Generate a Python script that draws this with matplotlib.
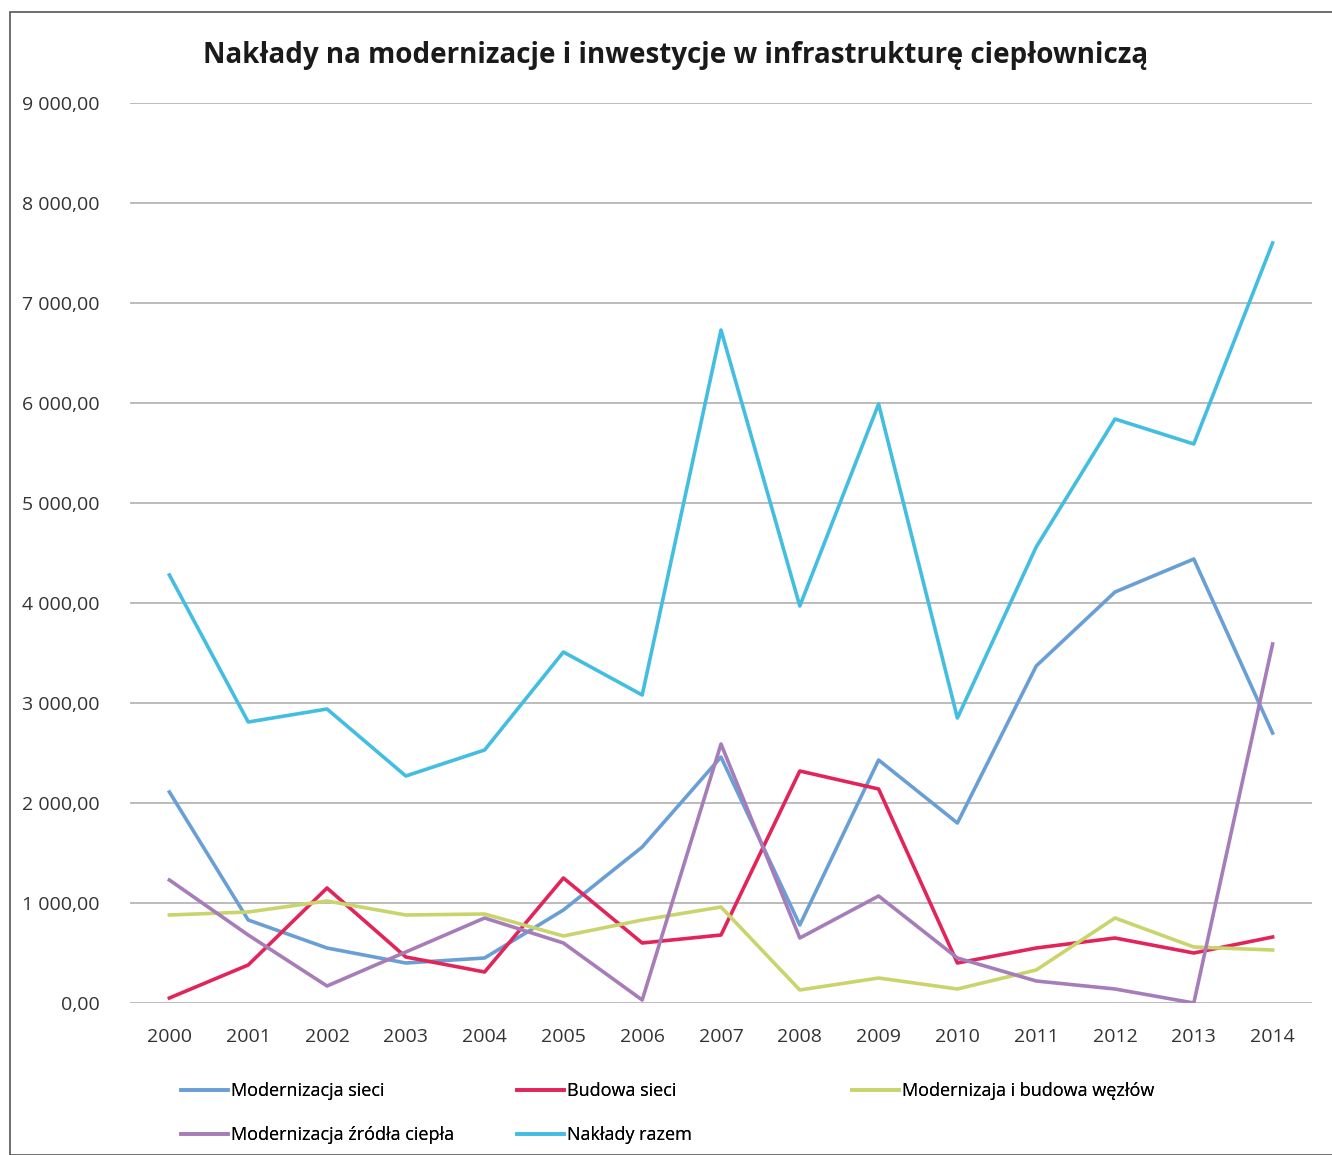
import matplotlib
matplotlib.use("Agg")
import matplotlib.pyplot as plt
from matplotlib.ticker import FuncFormatter
from matplotlib.patches import Rectangle

years = ["2000", "2001", "2002", "2003", "2004", "2005", "2006", "2007",
         "2008", "2009", "2010", "2011", "2012", "2013", "2014"]

modernizacja_sieci = [2110, 830, 550, 400, 450, 930, 1560, 2460, 780, 2430, 1800, 3370, 4110, 4440, 2700]
budowa_sieci = [50, 380, 1150, 460, 310, 1250, 600, 680, 2320, 2140, 400, 550, 650, 500, 660]
wezly = [880, 910, 1020, 880, 890, 670, 830, 960, 130, 250, 140, 330, 850, 560, 530]
zrodla = [1230, 680, 170, 510, 850, 600, 30, 2590, 650, 1070, 450, 220, 140, 0, 3590]
razem = [4280, 2810, 2940, 2270, 2530, 3510, 3080, 6730, 3970, 5990, 2850, 4560, 5840, 5590, 7600]

series = [
    ("Modernizacja sieci", modernizacja_sieci, "#6A9FD6"),
    ("Budowa sieci", budowa_sieci, "#E2245A"),
    ("Modernizaja i budowa węzłów", wezly, "#C9D56C"),
    ("Modernizacja źródła ciepła", zrodla, "#A67DB8"),
    ("Nakłady razem", razem, "#43BEE0"),
]

plt.rcParams['font.family'] = ['Open Sans', 'DejaVu Sans']

fig = plt.figure(figsize=(13.32, 11.55), dpi=100)
ax = fig.add_axes([130/1332, 1 - 1003/1155, (1312-130)/1332, 900/1155])

x = list(range(len(years)))
handles = []
for name, vals, col in series:
    h, = ax.plot(x, vals, color=col, lw=2.6, label=name)
    handles.append(h)

ax.set_xlim(-0.5, len(years) - 0.5)
ax.set_ylim(0, 9000)
ax.set_yticks(range(0, 9001, 1000))
ax.yaxis.set_major_formatter(FuncFormatter(
    lambda v, p: f"{v:,.2f}".replace(",", " ").replace(".", ",")))
ax.set_xticks(x)
ax.set_xticklabels(years)
ax.tick_params(axis='both', length=0, labelsize=14, colors="#333333")
ax.tick_params(axis='y', pad=22)
ax.tick_params(axis='x', pad=18)
ax.grid(axis='y', color="#B0B0B0", lw=1.2)
ax.set_axisbelow(True)
for s in ax.spines.values():
    s.set_visible(False)

fig.text(676/1332, 1 - 55/1155, "Nakłady na modernizacje i inwestycje w infrastrukturę ciepłowniczą",
         ha='center', va='center', fontsize=20, fontweight='bold', color="#1A1A1A")

columns = [([handles[0], handles[3]], 172), ([handles[1], handles[4]], 508), ([handles[2]], 843)]
for hs, xpx in columns:
    leg = fig.legend(hs, [h.get_label() for h in hs], ncol=1,
                     loc='upper left', bbox_to_anchor=(xpx/1332, 1 - 1073/1155),
                     frameon=False, fontsize=13, handlelength=2.6, handletextpad=0.15,
                     labelspacing=1.45, borderpad=0)
    fig.add_artist(leg)

fig.patches.append(Rectangle((10/1332, 0), 1.0, 1 - 12/1155, transform=fig.transFigure,
                             fill=False, edgecolor="#555555", lw=1.2))

fig.savefig("out.png", dpi=100, facecolor="white")
